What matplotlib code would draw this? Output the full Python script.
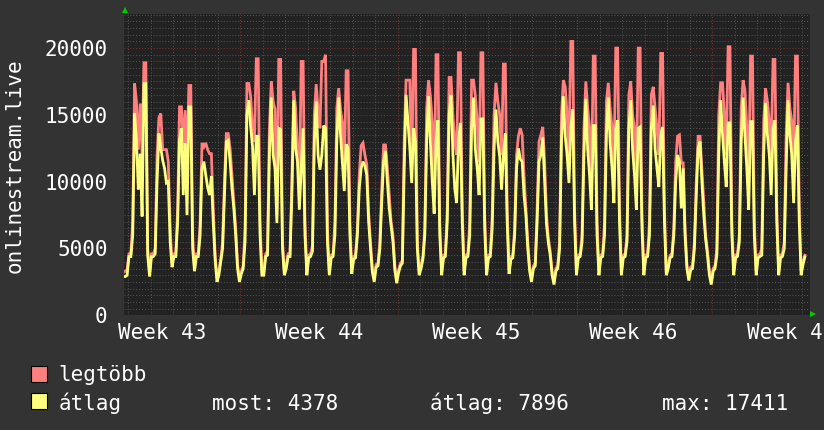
import numpy as np
import matplotlib
matplotlib.use("Agg")
import matplotlib.pyplot as plt
from matplotlib.patches import Rectangle

# ---------------- data (2-hour samples, days relative to Monday of week 44) ----------------
t_start = -5.25          # first sample (days)
samples_per_day = 12

legtobb = [  # maximum series
    3200, 3300, 3400,
    4600, 4600, 7000, 17350, 16000, 12400, 15850, 12000, 18900, 18900, 5000, 3200,
    4600, 4600, 5000, 12000, 14800, 15100, 12400, 12400, 12400, 11500, 6500, 3900,
    4600, 4600, 8000, 15600, 15600, 12500, 15350, 11000, 17200, 17200, 6000, 3500,
    4600, 4600, 7000, 12900, 12600, 12900, 12400, 12100, 12100, 8000, 4600, 2800,
    3300, 4200, 5500, 10000, 13600, 13600, 12500, 10500, 8500, 6500, 3800, 2800,
    3300, 3700, 6500, 17350, 17350, 16350, 14000, 13000, 19200, 19200, 7000, 3300,
    3300, 4600, 4800, 14000, 17500, 16000, 15400, 7500, 19150, 19150, 5500, 3200,
    3800, 4600, 4600, 10000, 16800, 15500, 12500, 9000, 19000, 19000, 7000, 3300,
    4500, 4600, 5200, 15000, 17300, 15400, 14000, 19000, 19000, 19500, 6500, 3300,
    4500, 4600, 7000, 15500, 17000, 15400, 14400, 11000, 18300, 18300, 7000, 3400,
    4400, 4500, 6500, 10500, 12700, 12900, 12000, 11300, 7700, 5500, 3500, 2800,
    3800, 3900, 5500, 9500, 12750, 12750, 11000, 9000, 7000, 6000, 3700, 2700,
    3400, 3900, 4100, 13000, 17600, 17600, 17600, 11000, 19900, 19900, 5500, 3300,
    3800, 4400, 6500, 15500, 17600, 16400, 14400, 9000, 19500, 19500, 7000, 3300,
    4500, 4600, 8000, 17800, 17800, 15000, 13000, 12000, 19650, 19650, 8000, 3300,
    4500, 4600, 7000, 17600, 17600, 16400, 14500, 11500, 19650, 19650, 7500, 3300,
    4500, 4600, 7500, 15000, 17400, 16000, 15000, 12000, 18800, 18800, 8000, 3400,
    4400, 4500, 6500, 12000, 13400, 14000, 13500, 10500, 8000, 5500, 3600, 2800,
    3700, 3900, 8000, 13000, 13500, 14100, 11500, 7500, 5800, 4800, 3300, 2500,
    3500, 3700, 5500, 15000, 17600, 17100, 15000, 12000, 20500, 20500, 8000, 3300,
    4500, 4600, 6000, 14000, 17500, 15500, 14000, 10000, 19400, 19400, 7000, 3300,
    4500, 4600, 7000, 16000, 17400, 15500, 14000, 11000, 20000, 20000, 8000, 3300,
    4500, 4600, 6000, 16500, 17500, 15000, 14000, 10000, 20000, 20000, 7500, 3300,
    4500, 4600, 7000, 16500, 17100, 15500, 14000, 12000, 19600, 19600, 8000, 3200,
    3700, 4500, 4600, 6500, 11500, 13400, 13500, 11400, 11400, 6500, 3800, 2900,
    3600, 3700, 5500, 10000, 13400, 13400, 11000, 8500, 6000, 4800, 3300, 2500,
    3500, 3700, 5000, 15000, 17400, 17400, 15000, 12000, 20100, 20100, 7000, 3300,
    4500, 4600, 6000, 15500, 17600, 16800, 14000, 10000, 19400, 19400, 7000, 3300,
    4500, 4600, 5000, 14500, 17000, 16000, 14500, 12000, 19150, 19150, 8000, 3300,
    4500, 4600, 5500, 13500, 17400, 15500, 14500, 11000, 19400, 19400, 8000, 3300,
    4000, 4500,
]

atlag = [  # average series
    2900, 2900, 3000,
    4400, 4400, 6000, 15100, 13000, 9400, 12100, 7400, 17350, 17350, 4500, 2900,
    4400, 4400, 4600, 10000, 13600, 12500, 11600, 11000, 9900, 10000, 5500, 3600,
    4400, 4400, 7000, 13100, 14000, 9000, 12900, 7500, 15600, 15600, 5000, 3300,
    4400, 4400, 6000, 11000, 11500, 10500, 9600, 9000, 10400, 7000, 4200, 2500,
    3000, 4000, 5000, 9000, 13000, 13100, 11500, 9500, 8000, 6000, 3500, 2500,
    3100, 3500, 5500, 15000, 16100, 14100, 12600, 9000, 13400, 13400, 6000, 3000,
    3000, 4400, 4500, 12000, 16300, 12000, 11000, 6900, 14000, 13900, 5000, 3000,
    3500, 4400, 4400, 9000, 16100, 12500, 11500, 7900, 11000, 14000, 6000, 3000,
    4300, 4400, 4800, 13000, 16000, 12000, 10900, 12000, 14200, 14000, 5500, 3000,
    4300, 4400, 6000, 13000, 16300, 13500, 11400, 9300, 12800, 12500, 6000, 3100,
    4200, 4300, 6000, 9500, 11000, 11500, 11200, 10500, 7000, 5000, 3200, 2500,
    3600, 3700, 5000, 8500, 11500, 12300, 10000, 8000, 6700, 5500, 3400, 2400,
    3200, 3700, 3900, 11000, 16500, 14500, 12500, 9900, 14000, 13000, 5000, 3000,
    3500, 4200, 6000, 13000, 16400, 12900, 10000, 7600, 13000, 14600, 6000, 3000,
    4300, 4400, 7000, 15000, 16500, 12100, 9500, 8400, 13000, 14400, 7000, 3000,
    4300, 4400, 6000, 14000, 16300, 12400, 11000, 9000, 14700, 14700, 6500, 3000,
    4300, 4400, 6500, 12500, 15400, 13000, 11900, 9400, 12000, 13600, 7000, 3100,
    4200, 4300, 6000, 11000, 12500, 11700, 11500, 9000, 7500, 5000, 3300, 2500,
    3500, 3700, 7000, 11500, 12000, 13300, 10000, 6800, 5400, 4500, 3000, 2300,
    3300, 3500, 5000, 13000, 16400, 13400, 12000, 9900, 14000, 15400, 7000, 3000,
    4300, 4400, 5500, 12000, 16200, 12400, 10500, 7900, 14200, 14200, 6000, 3000,
    4300, 4400, 6000, 13500, 16300, 12900, 11000, 8400, 14000, 14600, 7000, 3000,
    4300, 4400, 5500, 14000, 16100, 12400, 10500, 7900, 14000, 14100, 6500, 3000,
    4300, 4400, 6000, 14000, 15700, 12500, 11000, 9600, 13500, 14100, 7000, 3000,
    3500, 4300, 4400, 6000, 10000, 12000, 11500, 8000, 11000, 6000, 3500, 2600,
    3400, 3500, 5000, 9000, 12500, 13000, 10000, 7500, 5700, 4500, 3000, 2300,
    3300, 3500, 4500, 12000, 16100, 13600, 11500, 9600, 14400, 14400, 6000, 3000,
    4300, 4400, 5500, 13000, 16300, 13400, 11000, 7900, 14500, 14500, 6000, 3000,
    4300, 4400, 4500, 12000, 15900, 13500, 12000, 9000, 14000, 14600, 7000, 3000,
    4300, 4400, 5000, 11000, 16100, 13500, 12000, 8400, 13000, 14200, 7000, 3000,
    3800, 4378,
]

week_labels = ["Week 43", "Week 44", "Week 45", "Week 46", "Week 47"]
week_label_pos = [-3.5, 3.5, 10.5, 17.5, 24.5]   # mid-week
y_ticks = [0, 5000, 10000, 15000, 20000]
legend_names = ["legtöbb", "átlag"]
stats_text = ["most: 4378", "átlag: 7896", "max: 17411"]

# ---------------- style ----------------
W, H = 824, 430
BG = "#333333"
CANVAS = "#222222"
GRID = "#555555"
MGRID = "#7a3535"
RED = "#ff7f7f"
YEL = "#ffff7f"
FONT = "DejaVu Sans Mono"
FS = 15

plt.rcParams["font.family"] = [FONT, "DejaVu Sans"]

fig = plt.figure(figsize=(W / 100, H / 100), dpi=100, facecolor=BG)
left, right, top, bottom = 124.0, 809.7, 14.0, 315.3
ax = fig.add_axes([left / W, 1 - bottom / H, (right - left) / W, (bottom - top) / H])
ax.set_facecolor(CANVAS)

x_min, x_max = -5.18, 25.34
y_max = 22550
ax.set_xlim(x_min, x_max)
ax.set_ylim(0, y_max)

# grid
dot = (0, (1, 2))
for v in np.arange(500, y_max, 500):
    if v % 5000 == 0:
        continue
    ax.axhline(v, color=GRID, lw=0.7, ls=dot, zorder=1)
for d in range(int(np.ceil(x_min)), int(np.floor(x_max)) + 1):
    if d % 7 == 0:
        continue
    ax.axvline(d, color=GRID, lw=0.7, ls=dot, zorder=1)
for v in range(5000, y_max, 5000):
    ax.axhline(v, color=MGRID, lw=0.7, ls=dot, zorder=1.5)
for d in range(int(np.ceil(x_min)), int(np.floor(x_max)) + 1):
    if d % 7 == 0:
        ax.axvline(d, color=MGRID, lw=0.7, ls=dot, zorder=1.5)

# data: samples are centred in their 2-hour slot
n = len(atlag)
t = t_start + (np.arange(n) + 0.5) / samples_per_day
ax.plot(t, legtobb, color=RED, lw=2.0, zorder=3, solid_joinstyle="miter")
ax.plot(t, atlag, color=YEL, lw=2.0, zorder=4, solid_joinstyle="miter")

# axes / ticks
for s in ax.spines.values():
    s.set_visible(False)
ax.set_yticks(y_ticks)
ax.set_yticklabels([str(v) for v in y_ticks])
ax.set_xticks(week_label_pos)
ax.set_xticklabels(week_labels)
ax.tick_params(axis="y", length=0, pad=11.7, labelsize=FS, labelcolor="white")
ax.tick_params(axis="x", length=0, pad=5.5, labelsize=FS, labelcolor="white")
for lab in ax.get_xticklabels() + ax.get_yticklabels():
    lab.set_fontfamily(FONT)
    lab.set_clip_on(False)

# arrows at axis ends
ax.plot([0.0015], [1.012], marker="^", color="#00cc00", ms=5, mew=0,
        transform=ax.transAxes, clip_on=False)
ax.plot([1.0045], [0.003], marker=">", color="#00cc00", ms=5, mew=0,
        transform=ax.transAxes, clip_on=False)

# y label
fig.text(5 / W, 1 - 166 / H, "onlinestream.live", rotation=90, ha="left", va="center",
         color="white", fontsize=FS, family=FONT)

# legend
for i, (name, col) in enumerate(zip(legend_names, [RED, YEL])):
    y_top = [365.7, 393.3][i]
    fig.patches.append(Rectangle((31 / W, 1 - (y_top + 16) / H), 16 / W, 16 / H,
                                 transform=fig.transFigure, facecolor=col,
                                 edgecolor="black", lw=0.8))
    base = [381.0, 409.5][i]
    fig.text(58.5 / W, 1 - base / H, name, ha="left", va="baseline",
             color="white", fontsize=FS, family=FONT)
for txt, xpos in zip(stats_text, [211.5, 429.5, 662]):
    fig.text(xpos / W, 1 - 409.5 / H, txt, ha="left", va="baseline",
             color="white", fontsize=FS, family=FONT)

fig.savefig("out.png", dpi=100, facecolor=BG)
